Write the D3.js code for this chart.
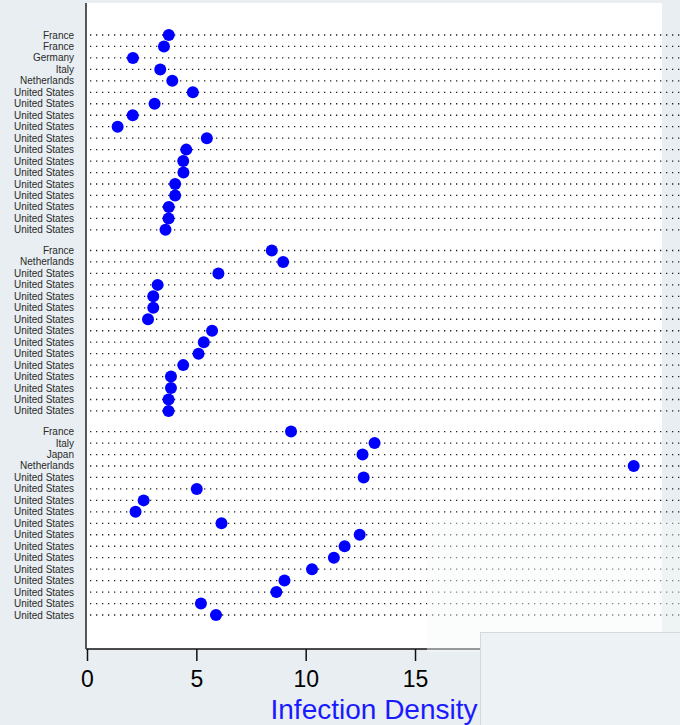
<!DOCTYPE html>
<html>
<head>
<meta charset="utf-8">
<script src="https://cdn.jsdelivr.net/npm/d3@7"></script>
<style>
  body { margin: 0; background: #e8eef1; }
  #graph { width: 680px; height: 725px; }
  .rowLabel { font-family: "Liberation Sans", Arial, sans-serif; font-size: 10px; fill: #2a2a2a; }
  .axis.x text { font-family: "Liberation Sans", Arial, sans-serif; font-size: 23px; fill: #000; }
</style>
</head>
<body>
<div id="graph"></div>
<script>
//グループごとのカテゴリ
var group1Labels = ["France", "France", "Germany", "Italy", "Netherlands",
  "United States", "United States", "United States", "United States", "United States",
  "United States", "United States", "United States", "United States", "United States",
  "United States", "United States", "United States"];
var group2Labels = ["France", "Netherlands",
  "United States", "United States", "United States", "United States", "United States",
  "United States", "United States", "United States", "United States", "United States",
  "United States", "United States", "United States"];
var group3Labels = ["France", "Italy", "Japan", "Netherlands",
  "United States", "United States", "United States", "United States", "United States",
  "United States", "United States", "United States", "United States", "United States",
  "United States", "United States", "United States"];

//グループごとの値
var group1Values = [3.74, 3.52, 2.10, 3.35, 3.90, 4.84, 3.09, 2.09, 1.40, 5.48,
  4.54, 4.40, 4.41, 4.03, 4.03, 3.74, 3.73, 3.59];
var group2Values = [8.45, 8.97, 6.01, 3.23, 3.03, 3.03, 2.79, 5.72, 5.34, 5.10,
  4.40, 3.84, 3.84, 3.73, 3.73];
var group3Values = [9.33, 13.15, 12.60, 25.0, 12.65, 5.02, 2.59, 2.22, 6.15, 12.47,
  11.78, 11.29, 10.29, 9.03, 8.66, 5.21, 5.90];

//x軸の目盛り
var xTicks = [0, 5, 10, 15, 20, 25];
var xTitle = "Infection Density";

var width = 680, height = 725;
//プロット領域
var plot = { left: 86, top: 3, right: 662, bottom: 649 };
//グループ間の隙間 (行数単位)
var groupGap = 1.8;

var svg = d3.select("#graph").append("svg");
var bgLayer = svg.append("g").classed("bgLayer", true);
var chartLayer = svg.append("g").classed("chartLayer", true);
var axisLayer = svg.append("g").classed("axisLayer", true);
var overLayer = svg.append("g").classed("overLayer", true);

var xScale = d3.scaleLinear();
var yScale = d3.scaleLinear();

main(buildRows());

function buildRows() {
  //3グループを1つの行リストにまとめる (slotは縦位置のインデックス)
  var rows = [];
  var slot = 0;
  [[group1Labels, group1Values], [group2Labels, group2Values], [group3Labels, group3Values]]
    .forEach(function(g, gi) {
      if (gi > 0) slot += groupGap - 1;
      g[0].forEach(function(name, i) {
        rows.push({ name: name, value: g[1][i], slot: slot });
        slot += 1;
      });
    });
  return rows;
}

function main(data) {
  svg.attr("width", width).attr("height", height);
  initScale(data);
  renderBackground();
  renderChart(data);
  renderAxis();
  renderOverlay();
}

function initScale(data) {
  xScale.domain([0, 25]).range([87, 633.7]);
  yScale.domain([0, d3.max(data, function(d) { return d.slot; })]).range([35, 615]);
}

function renderBackground() {
  //白いプロット領域
  bgLayer.append("rect")
    .attr("x", plot.left)
    .attr("y", plot.top)
    .attr("width", plot.right - plot.left)
    .attr("height", plot.bottom - plot.top)
    .attr("fill", "#fff");
}

function renderChart(data) {
  //点線のガイド
  chartLayer.selectAll(".guide").data(data).enter()
    .append("line")
    .classed("guide", true)
    .attr("x1", 90)
    .attr("x2", width)
    .attr("y1", function(d) { return yScale(d.slot); })
    .attr("y2", function(d) { return yScale(d.slot); })
    .attr("stroke", "#222")
    .attr("stroke-width", 1.3)
    .attr("stroke-dasharray", "1.3,4.7");

  //行ラベル
  chartLayer.selectAll(".rowLabel").data(data).enter()
    .append("text")
    .classed("rowLabel", true)
    .attr("x", 74)
    .attr("y", function(d) { return yScale(d.slot); })
    .attr("dy", "0.35em")
    .attr("text-anchor", "end")
    .text(function(d) { return d.name; });

  //ドット
  chartLayer.selectAll(".dot").data(data).enter()
    .append("circle")
    .classed("dot", true)
    .attr("cx", function(d) { return xScale(d.value); })
    .attr("cy", function(d) { return yScale(d.slot); })
    .attr("r", 6)
    .attr("fill", "#0000ff");
}

function renderAxis() {
  var xAxis = d3.axisBottom(xScale)
    .tickValues(xTicks)
    .tickSizeInner(12)
    .tickSizeOuter(0)
    .tickPadding(10);

  var gx = axisLayer.append("g")
    .attr("class", "axis x")
    .attr("transform", "translate(" + [0, plot.bottom] + ")")
    .call(xAxis);
  gx.select(".domain").attr("d", "M" + plot.left + ",0H" + plot.right)
    .attr("stroke", "#111").attr("stroke-width", 1.5);
  gx.selectAll(".tick line").attr("stroke", "#111").attr("stroke-width", 1.5);

  //y軸の縦線
  axisLayer.append("line")
    .attr("x1", plot.left).attr("x2", plot.left)
    .attr("y1", plot.top).attr("y2", plot.bottom)
    .attr("stroke", "#444")
    .attr("stroke-width", 1.8);

  //x軸タイトル
  axisLayer.append("text")
    .attr("x", (plot.left + plot.right) / 2)
    .attr("y", 719)
    .attr("text-anchor", "middle")
    .attr("font-family", "'Liberation Sans', Arial, sans-serif")
    .attr("font-size", 28)
    .attr("fill", "#1a1aff")
    .text(xTitle);
}

function renderOverlay() {
  //右下の半透明な重なり
  overLayer.append("rect")
    .attr("x", 427).attr("y", 521)
    .attr("width", width - 427).attr("height", 131)
    .attr("fill", "#f6f8f9")
    .attr("opacity", 0.45);

  //右下のパネル
  overLayer.append("rect")
    .attr("x", 480.5).attr("y", 632.5)
    .attr("width", 210).attr("height", 100)
    .attr("fill", "#edf2f5")
    .attr("stroke", "#d3d9dc");
}
</script>
</body>
</html>
